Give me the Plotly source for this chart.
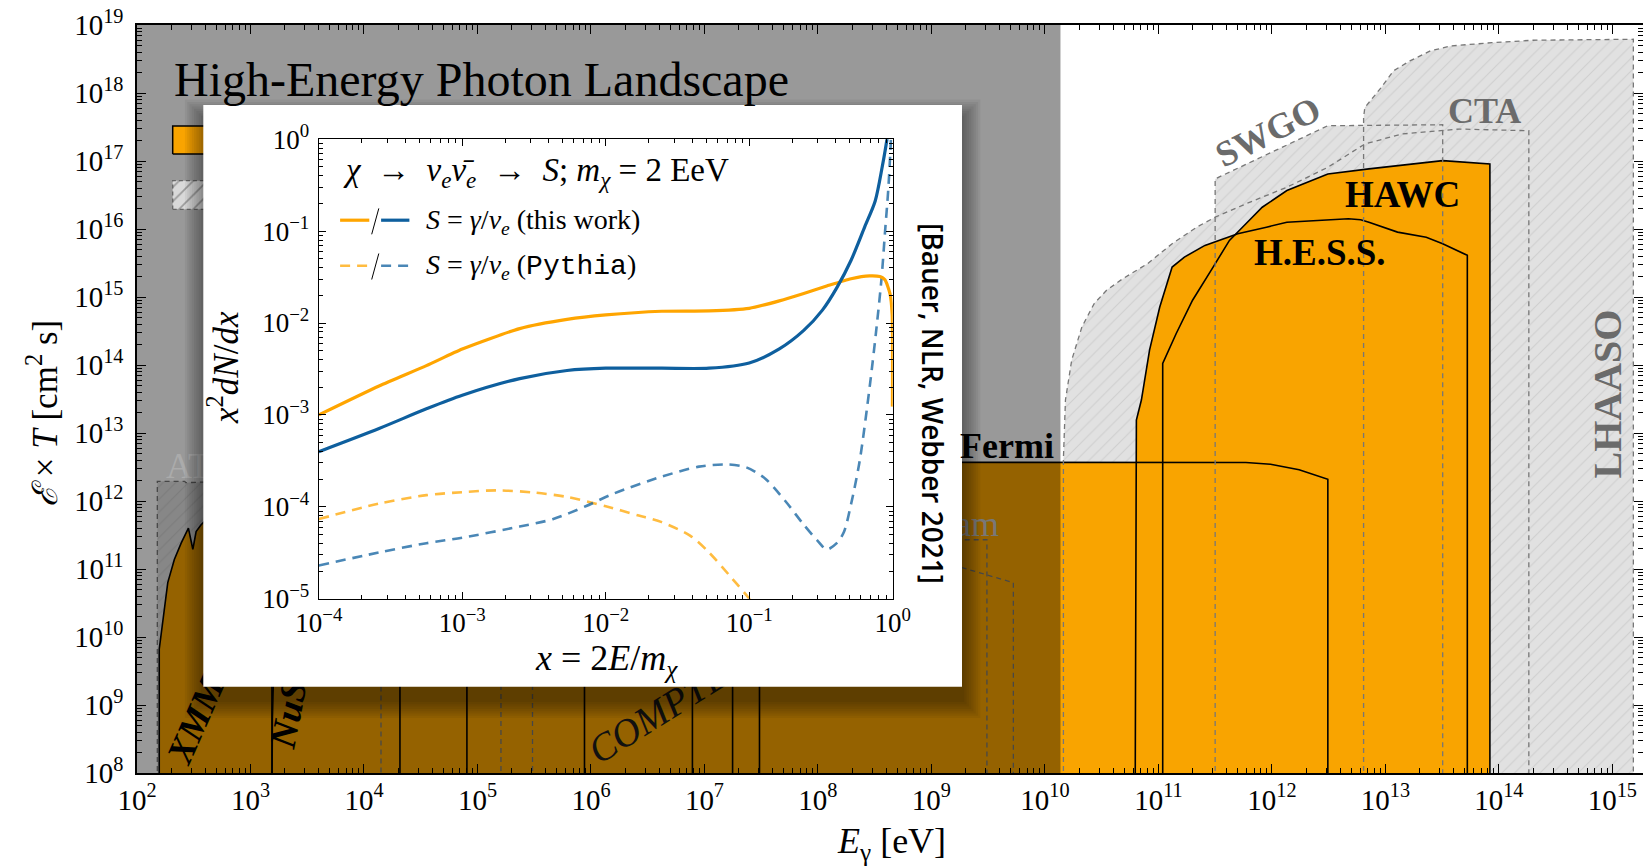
import plotly.graph_objects as go

# ---------------------------------------------------------------------------
# Page geometry (pixels) and axis ranges
# ---------------------------------------------------------------------------
FIG_W, FIG_H = 1643, 867
MARGIN = dict(l=137, r=0, t=25, b=94)
PLOT_W = FIG_W - MARGIN["l"] - MARGIN["r"]
PLOT_H = FIG_H - MARGIN["t"] - MARGIN["b"]

LOGE_RANGE = [2.0, 15.27]     # log10(E_gamma / eV)
LOGEXP_RANGE = [8.0, 19.0]    # log10(exposure / cm^2 s)
FLOOR = 7.5                   # regions are closed below the visible axis

SERIF = "Liberation Serif, DejaVu Serif, serif"
SANS = "Open Sans, DejaVu Sans, sans-serif"

ORANGE_FILL = "#F9A400"
HATCH_BG = "#e1e1e1"
HATCH_FG = "#bcbcbc"
DASH_GREY = "#777777"
LABEL_GREY = "#6b6b6b"

ORANGE_LINE = "#FFA500"
BLUE_LINE = "#0e5f9e"
ORANGE_DASH = "rgba(255,165,0,0.75)"
BLUE_DASH = "rgba(14,95,158,0.75)"

# ---------------------------------------------------------------------------
# Operating instruments: upper edge of each exposure region
# (log10 E [eV], log10 exposure [cm^2 s])
# ---------------------------------------------------------------------------
xmm_loge = [2.196, 2.271, 2.329, 2.389, 2.453, 2.492, 2.521, 2.565, 2.75, 3.0, 3.189]
xmm_logexp = [9.82, 10.80, 11.14, 11.38, 11.60, 11.29, 11.55, 11.65, 11.95, 12.0, 11.9]

nustar_loge = [3.189, 3.193, 3.205, 3.35, 3.7, 4.2, 4.6, 4.907]
nustar_logexp = [8.0, 8.8, 9.6, 10.6, 11.0, 10.9, 10.6, 10.3]

integral_loge = [4.317, 4.5, 5.0, 5.5, 6.0, 6.5, 6.894]
integral_logexp = [10.2, 10.6, 10.8, 10.7, 10.5, 10.2, 9.9]

comptel_loge = [5.943, 6.2, 6.6, 7.0, 7.485]
comptel_logexp = [9.9, 10.2, 10.3, 10.2, 10.0]

fermi_loge = [7.248, 8.0, 9.0, 10.0, 11.0, 11.771, 11.988, 12.240, 12.493]
fermi_logexp = [12.57, 12.57, 12.57, 12.57, 12.57, 12.566, 12.54, 12.46, 12.32]

hess_loge = [10.796, 10.806, 10.850, 10.922, 11.012, 11.121, 11.229, 11.410, 11.699,
             11.952, 12.132, 12.674, 12.782, 12.855, 13.107, 13.360, 13.505, 13.722]
hess_logexp = [8.0, 13.19, 13.485, 14.219, 14.853, 15.440, 15.587, 15.759, 15.930,
               16.027, 16.100, 16.150, 16.135, 16.100, 15.954, 15.880, 15.784, 15.612]

hawc_loge = [11.038, 11.038, 11.157, 11.301, 11.482, 11.626, 11.771, 11.915, 12.132,
             12.493, 12.855, 13.216, 13.505, 13.921]
hawc_logexp = [8.0, 14.024, 14.463, 14.952, 15.440, 15.832, 16.077, 16.320, 16.565,
               16.810, 16.884, 16.957, 17.005, 16.957]

# ---------------------------------------------------------------------------
# Future instruments (hatched)
# ---------------------------------------------------------------------------
athena_loge = [2.179, 2.42, 2.43, 3.0, 4.150]
athena_logexp = [12.29, 12.29, 12.27, 12.30, 12.30]

mev_a_loge = [5.207, 6.0, 7.0, 8.0, 9.0, 9.489]
mev_a_logexp = [10.8, 11.2, 11.4, 11.43, 11.43, 11.43]

mev_b_loge = [5.485, 6.5, 7.5, 8.5, 9.269, 9.722]
mev_b_logexp = [10.5, 10.9, 11.2, 11.2, 11.02, 10.80]

cta_loge = [10.163, 10.163, 10.181, 10.236, 10.326, 10.434, 10.543, 10.687, 10.904, 11.121,
            11.338, 11.500, 11.771, 12.132, 12.493, 12.819, 13.144, 13.505, 13.649, 14.264]
cta_logexp = [8.0, 12.62, 13.485, 14.072, 14.560, 14.903, 15.099, 15.270, 15.490, 15.784,
              16.027, 16.174, 16.370, 16.614, 16.907, 17.250, 17.397, 17.445, 17.470, 17.445]

swgo_loge = [11.500, 11.500, 12.493, 13.505]
swgo_logexp = [8.0, 16.737, 17.519, 17.533]

lhaaso_loge = [12.808, 12.808, 12.819, 12.963, 13.071, 13.216, 13.396, 13.577, 13.938, 14.300, 15.185]
lhaaso_logexp = [8.0, 17.640, 17.787, 18.080, 18.325, 18.472, 18.619, 18.692, 18.740, 18.776, 18.790]

SHADED_UPTO_LOGE = 10.137     # darkened band on the low-energy side

# ---------------------------------------------------------------------------
# Inset: x^2 dN/dx spectra, chi -> nu_e nubar_e, m_chi = 2 EeV (log10 values)
# ---------------------------------------------------------------------------
gamma_lx = [-4.0, -3.58, -3.25, -3.0, -2.6, -2.27, -2.0, -1.61, -1.28, -1.0, -0.79, -0.62,
            -0.46, -0.29, -0.16, -0.09, -0.054, -0.019, -0.004, -0.002]
gamma_ly = [-3.0, -2.685, -2.464, -2.283, -2.061, -1.961, -1.912, -1.872, -1.868, -1.840,
            -1.759, -1.679, -1.598, -1.518, -1.487, -1.495, -1.53, -1.68, -1.90, -2.91]

nue_lx = [-4.0, -3.58, -3.25, -3.0, -2.6, -2.27, -2.0, -1.61, -1.28, -1.0, -0.79, -0.62,
          -0.49, -0.39, -0.29, -0.195, -0.122, -0.073, -0.04, -0.02]
nue_ly = [-3.40, -3.148, -2.934, -2.786, -2.605, -2.517, -2.492, -2.492, -2.492, -2.435,
          -2.282, -2.081, -1.860, -1.618, -1.317, -0.954, -0.672, -0.30, 0.0, 0.25]

gamma_pythia_lx = [-4.0, -3.58, -3.25, -3.0, -2.76, -2.5, -2.27, -2.0, -1.77, -1.61, -1.41,
                   -1.28, -1.12, -1.0, -0.95]
gamma_pythia_ly = [-4.134, -3.965, -3.873, -3.841, -3.821, -3.845, -3.893, -3.994, -4.095,
                   -4.167, -4.316, -4.497, -4.779, -5.0, -5.12]

nue_pythia_lx = [-4.0, -3.58, -3.25, -3.0, -2.6, -2.37, -2.14, -1.94, -1.61, -1.35, -1.15,
                 -1.02, -0.89, -0.75, -0.62, -0.52, -0.46, -0.39, -0.34, -0.29, -0.23,
                 -0.16, -0.112, -0.077, -0.054, -0.031, -0.012, -0.005]
nue_pythia_ly = [-4.638, -4.497, -4.396, -4.336, -4.215, -4.135, -3.994, -3.853, -3.672,
                 -3.563, -3.539, -3.571, -3.692, -3.934, -4.195, -4.376, -4.465, -4.396,
                 -4.275, -3.97, -3.50, -2.69, -2.04, -1.50, -1.02, -0.55, 0.0, 0.3]

# ---------------------------------------------------------------------------
# Inset placement (pixels)
# ---------------------------------------------------------------------------
INSET_AX = dict(left=318.8, right=892.7, top=139.2, bottom=598.7)
INSET_CARD = dict(left=203.3, right=962.0, top=105.0, bottom=686.7)


def paper_x(px):
    return (px - MARGIN["l"]) / PLOT_W


def paper_y(py):
    return (FIG_H - MARGIN["b"] - py) / PLOT_H


def panel_x(px):
    return LOGE_RANGE[0] + paper_x(px) * (LOGE_RANGE[1] - LOGE_RANGE[0])


def panel_y(py):
    return LOGEXP_RANGE[0] + paper_y(py) * (LOGEXP_RANGE[1] - LOGEXP_RANGE[0])


def region_xy(loge, logexp, closed=False):
    xs = [loge[0]] + list(loge) + [loge[-1]]
    ys = [FLOOR] + list(logexp) + [FLOOR]
    if closed:
        xs.append(xs[0])
        ys.append(ys[0])
    return [10.0 ** v for v in xs], [10.0 ** v for v in ys]


def pow10(vals):
    return [10.0 ** v for v in vals]


def decade_ticks(lo, hi):
    vals = [10.0 ** k for k in range(lo, hi + 1)]
    text = ["10<sup>%s</sup>" % (str(k) if k >= 0 else "\u2212" + str(-k)) for k in range(lo, hi + 1)]
    return vals, text


def minor_ticks(lo, hi):
    return [m * 10.0 ** k for k in range(lo, hi + 1) for m in range(2, 10)]


def rect_path(x0, x1, y0, y1):
    return [x0, x1, x1, x0, x0], [y0, y0, y1, y1, y0]


fig = go.Figure()

# ---- hatched regions (future instruments) ----
hatch = dict(shape="/", fgcolor=HATCH_FG, bgcolor=HATCH_BG, size=9, solidity=0.12)
future = [(athena_loge, athena_logexp), (mev_a_loge, mev_a_logexp), (mev_b_loge, mev_b_logexp),
          (lhaaso_loge, lhaaso_logexp), (cta_loge, cta_logexp), (swgo_loge, swgo_logexp)]
for lx, ly in future:
    xs, ys = region_xy(lx, ly)
    fig.add_trace(go.Scatter(x=xs, y=ys, mode="lines", fill="toself", fillcolor=HATCH_BG,
                             fillpattern=hatch, line=dict(width=0), hoverinfo="skip"))

# ---- operating instruments (orange) ----
current = [(xmm_loge, xmm_logexp), (nustar_loge, nustar_logexp), (integral_loge, integral_logexp),
           (comptel_loge, comptel_logexp), (fermi_loge, fermi_logexp),
           (hess_loge, hess_logexp), (hawc_loge, hawc_logexp)]
for lx, ly in current:
    xs, ys = region_xy(lx, ly)
    fig.add_trace(go.Scatter(x=xs, y=ys, mode="lines", fill="toself", fillcolor=ORANGE_FILL,
                             line=dict(width=0), hoverinfo="skip"))
for lx, ly in current:
    xs, ys = region_xy(lx, ly, closed=True)
    fig.add_trace(go.Scatter(x=xs, y=ys, mode="lines", line=dict(color="black", width=1.6),
                             hoverinfo="skip"))
for lx, ly in future:
    xs, ys = region_xy(lx, ly, closed=True)
    fig.add_trace(go.Scatter(x=xs, y=ys, mode="lines",
                             line=dict(color=DASH_GREY, width=1.3, dash="5px,4px"),
                             hoverinfo="skip"))

# ---- darkened low-energy band ----
sx, sy = rect_path(1.0, SHADED_UPTO_LOGE, FLOOR, 20.0)
fig.add_trace(go.Scatter(x=pow10(sx), y=pow10(sy), mode="lines", fill="toself",
                         fillcolor="rgba(0,0,0,0.4)", line=dict(width=0), hoverinfo="skip"))

# ---- legend handles, drop shadow and inset card (middle layer) ----
lx0, lx1 = panel_x(172.7), panel_x(216.0)
ox, oy = rect_path(lx0, lx1, panel_y(154.0), panel_y(126.0))
fig.add_trace(go.Scatter(x=ox, y=oy, xaxis="x2", yaxis="y2", mode="lines", fill="toself",
                         fillcolor=ORANGE_FILL, line=dict(color="black", width=1.5), hoverinfo="skip"))
hx, hy = rect_path(lx0, lx1, panel_y(209.3), panel_y(180.7))
fig.add_trace(go.Scatter(x=hx, y=hy, xaxis="x2", yaxis="y2", mode="lines", fill="toself",
                         fillcolor="#d9d9d9",
                         fillpattern=dict(shape="/", fgcolor="#5e5e5e", bgcolor="#d9d9d9", size=10, solidity=0.18),
                         line=dict(color="#666666", width=1.3, dash="4px,3px"), hoverinfo="skip"))

SHADOW_OFFSET = 13.0
for i in range(1, 9):
    e = 2.3 * i
    cx, cy = rect_path(panel_x(INSET_CARD["left"] - e), panel_x(INSET_CARD["right"] + e),
                       panel_y(INSET_CARD["bottom"] + e + SHADOW_OFFSET),
                       panel_y(INSET_CARD["top"] - e + SHADOW_OFFSET))
    fig.add_trace(go.Scatter(x=cx, y=cy, xaxis="x2", yaxis="y2", mode="lines", fill="toself",
                             fillcolor="rgba(0,0,0,0.05)", line=dict(width=0), hoverinfo="skip"))
cx, cy = rect_path(panel_x(INSET_CARD["left"]), panel_x(INSET_CARD["right"]),
                   panel_y(INSET_CARD["bottom"]), panel_y(INSET_CARD["top"]))
fig.add_trace(go.Scatter(x=cx, y=cy, xaxis="x2", yaxis="y2", mode="lines", fill="toself",
                         fillcolor="white", line=dict(width=0), hoverinfo="skip"))

# ---- inset spectra ----
fig.add_trace(go.Scatter(x=pow10(gamma_pythia_lx), y=pow10(gamma_pythia_ly), xaxis="x3", yaxis="y3",
                         mode="lines", line=dict(color=ORANGE_DASH, width=2.6, dash="10px,7px", shape="spline", smoothing=0.8),
                         hoverinfo="skip"))
fig.add_trace(go.Scatter(x=pow10(nue_pythia_lx), y=pow10(nue_pythia_ly), xaxis="x3", yaxis="y3",
                         mode="lines", line=dict(color=BLUE_DASH, width=2.6, dash="10px,7px", shape="spline", smoothing=0.8),
                         hoverinfo="skip"))
fig.add_trace(go.Scatter(x=pow10(gamma_lx), y=pow10(gamma_ly), xaxis="x3", yaxis="y3",
                         mode="lines", line=dict(color=ORANGE_LINE, width=3.2, shape="spline", smoothing=0.6),
                         hoverinfo="skip"))
fig.add_trace(go.Scatter(x=pow10(nue_lx), y=pow10(nue_ly), xaxis="x3", yaxis="y3",
                         mode="lines", line=dict(color=BLUE_LINE, width=3.2, shape="spline", smoothing=0.8),
                         hoverinfo="skip"))

# ---------------------------------------------------------------------------
# Axes
# ---------------------------------------------------------------------------
axis_common = dict(showline=True, linecolor="black", mirror="allticks", ticks="inside",
                   tickcolor="black", showgrid=False, zeroline=False, tickmode="array",
                   automargin=False)

mx_vals, mx_text = decade_ticks(2, 15)
my_vals, my_text = decade_ticks(8, 19)
ix_vals, ix_text = decade_ticks(-4, 0)
iy_vals, iy_text = decade_ticks(-5, 0)

inset_dom_x = [paper_x(INSET_AX["left"]), paper_x(INSET_AX["right"])]
inset_dom_y = [paper_y(INSET_AX["bottom"]), paper_y(INSET_AX["top"])]

fig.update_layout(
    width=FIG_W, height=FIG_H, autosize=False,
    margin=dict(**MARGIN, pad=0, autoexpand=False),
    paper_bgcolor="white", plot_bgcolor="rgba(0,0,0,0)",
    font=dict(family=SERIF, color="black"),
    showlegend=False,
    xaxis=dict(type="log", range=LOGE_RANGE, domain=[0, 1], anchor="y",
               tickvals=mx_vals, ticktext=mx_text, ticklen=9, tickwidth=1.2, linewidth=1.5,
               tickfont=dict(size=29, family=SERIF),
               minor=dict(tickmode="array", tickvals=minor_ticks(2, 15), ticks="inside",
                          ticklen=5, tickwidth=1, tickcolor="black"),
               **axis_common),
    yaxis=dict(type="log", range=LOGEXP_RANGE, domain=[0, 1], anchor="x",
               tickvals=my_vals, ticktext=my_text, ticklen=9, tickwidth=1.2, linewidth=1.5,
               tickfont=dict(size=29, family=SERIF), ticklabelstandoff=6,
               minor=dict(tickmode="array", tickvals=minor_ticks(8, 19), ticks="inside",
                          ticklen=5, tickwidth=1, tickcolor="black"),
               **axis_common),
    xaxis2=dict(range=LOGE_RANGE, domain=[0, 1], anchor="y2", visible=False, fixedrange=True),
    yaxis2=dict(range=LOGEXP_RANGE, domain=[0, 1], anchor="x2", visible=False, fixedrange=True),
    xaxis3=dict(type="log", range=[-4, 0], domain=inset_dom_x, anchor="y3",
                tickvals=ix_vals, ticktext=ix_text, ticklen=7, tickwidth=1, linewidth=1.3,
                tickfont=dict(size=27, family=SERIF),
                minor=dict(tickmode="array", tickvals=minor_ticks(-4, -1), ticks="inside",
                           ticklen=4, tickwidth=1, tickcolor="black"),
                **axis_common),
    yaxis3=dict(type="log", range=[-5, 0], domain=inset_dom_y, anchor="x3",
                tickvals=iy_vals, ticktext=iy_text, ticklen=7, tickwidth=1, linewidth=1.3,
                tickfont=dict(size=27, family=SERIF), ticklabelstandoff=3,
                minor=dict(tickmode="array", tickvals=minor_ticks(-5, -1), ticks="inside",
                           ticklen=4, tickwidth=1, tickcolor="black"),
                **axis_common),
)

# ---------------------------------------------------------------------------
# Instrument labels that sit underneath the inset card (middle layer shapes)
# ---------------------------------------------------------------------------
def hidden_label(text, cx, cy, angle, size, color, position="middle center", half_w=0.02):
    x0, x1 = cx - half_w, cx + half_w
    if position == "middle left":
        x0, x1 = cx, cx + 2.0
    elif position == "middle right":
        x0, x1 = cx - 2.0, cx
    return dict(type="rect", xref="x2", yref="y2", x0=x0, x1=x1, y0=cy - 0.02, y1=cy + 0.02,
                layer="below", line=dict(width=0), fillcolor="rgba(0,0,0,0)",
                label=dict(text=text, textangle=angle, textposition=position, padding=0,
                           font=dict(family=SERIF, size=size, color=color)))


shapes = [
    hidden_label("<b><i>XMM</i></b>", panel_x(192), panel_y(718), -66, 37, "black"),
    hidden_label("<b><i>NuSTAR</i></b>", panel_x(291), panel_y(679), -79, 37, "black"),
    hidden_label("<i>COMPTEL</i>", panel_x(665), panel_y(703), -32, 39, "#111111"),
    hidden_label("ATHENA", panel_x(163), panel_y(462), 0, 36, "#ababab", position="middle left"),
    hidden_label("e-ASTROgam", panel_x(1002), panel_y(520), 0, 36, "#787878", position="middle right"),
]

# inset legend handles
def seg(x0, y0, x1, y1, color, width, dash=None):
    return dict(type="line", xref="paper", yref="paper", layer="above",
                x0=paper_x(x0), y0=paper_y(y0), x1=paper_x(x1), y1=paper_y(y1),
                line=dict(color=color, width=width, dash=dash))


shapes += [
    seg(340.1, 220.2, 369.3, 220.2, ORANGE_LINE, 3.2),
    seg(371.7, 234.3, 378.8, 208.4, "black", 1.0),
    seg(381.1, 220.2, 409.4, 220.2, BLUE_LINE, 3.2),
    seg(340.1, 265.7, 369.3, 265.7, ORANGE_DASH, 2.6, "10px,7px"),
    seg(371.7, 279.5, 378.8, 253.5, "black", 1.0),
    seg(381.1, 265.7, 409.4, 265.7, BLUE_DASH, 2.6, "10px,7px"),
]
fig.update_layout(shapes=shapes)

# ---------------------------------------------------------------------------
# Text
# ---------------------------------------------------------------------------
def paper_note(text, px, py, size, xanchor="center", yanchor="middle", family=SERIF,
               color="black", weight=None, angle=0):
    font = dict(family=family, size=size, color=color)
    if weight is not None:
        font["weight"] = weight
    return dict(text=text, xref="paper", yref="paper", x=paper_x(px), y=paper_y(py),
                xanchor=xanchor, yanchor=yanchor, showarrow=False, textangle=angle, font=font)


def data_note(text, loge, logexp, size, color="black", angle=0):
    return dict(text=text, xref="x", yref="y", x=loge, y=logexp, showarrow=False,
                xanchor="center", yanchor="middle",
                textangle=angle, font=dict(family=SERIF, size=size, color=color))


annotations = [
    paper_note("High-Energy Photon Landscape", 172, 80, 48, xanchor="left"),
    paper_note("<i>\u2130</i> \u00d7 <i>T</i> [cm<sup>2</sup> s]", 42, 414, 35, angle=-90),
    paper_note("<i>E</i><sub>\u03b3</sub> [eV]", 891, 843, 36),
    data_note("<b>Fermi</b>", panel_x(1007), panel_y(446), 36),
    data_note("<b>HAWC</b>", panel_x(1402), panel_y(194), 37),
    data_note("<b>H.E.S.S.</b>", panel_x(1320), panel_y(252), 37),
    data_note("<b>SWGO</b>", panel_x(1268), panel_y(132), 36, LABEL_GREY, -27),
    data_note("<b>CTA</b>", panel_x(1484), panel_y(111), 36, LABEL_GREY),
    data_note("<b>LHAASO</b>", panel_x(1606.5), panel_y(394), 40, LABEL_GREY, -90),
    # inset
    paper_note("<i>\u03c7</i>  \u2192  <i>\u03bd<sub>e</sub></i><i>\u03bd\u0304<sub>e</sub></i>  \u2192  <i>S</i>; "
               "<i>m<sub>\u03c7</sub></i> = 2 EeV", 341, 172, 33, xanchor="left"),
    paper_note("<i>S</i> = <i>\u03b3</i>/<i>\u03bd<sub>e</sub></i> (this work)", 423.6, 221, 28,
               xanchor="left"),
    paper_note("<i>S</i> = <i>\u03b3</i>/<i>\u03bd<sub>e</sub></i> (<span style=\"font-family:Liberation Mono\">Pythia</span>)",
               423.6, 266, 28, xanchor="left"),
    paper_note("<i>x</i> = 2<i>E</i>/<i>m<sub>\u03c7</sub></i>", 606, 660, 36),
    paper_note("<i>x</i><sup>2</sup><i>dN</i>/<i>dx</i>", 224, 368, 35, angle=-90),
    paper_note("[Bauer, NLR, Webber 2021]", 933, 403, 28, family=SANS, weight=600, angle=90),
]
fig.update_layout(annotations=annotations)

fig.write_html("out.html")
